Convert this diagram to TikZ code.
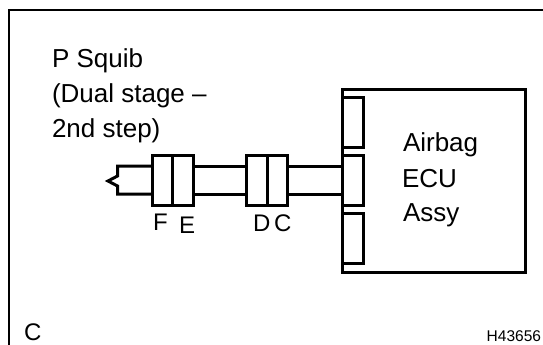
\documentclass[tikz,border=0pt]{standalone}
\usepackage{fontspec}
\setmainfont{Liberation Sans}
\usetikzlibrary{positioning, calc}
\begin{document}
\begin{tikzpicture}[
  x=1pt, y=-1pt,
  every node/.style = {inner sep=0pt, outer sep=0pt},
  block/.style = {draw=black, line width=3pt, minimum width=20.5pt, minimum height=50pt},
  ecu/.style = {draw=black, line width=3pt, minimum width=183pt, minimum height=183pt},
  port/.style = {draw=black, line width=3pt, minimum width=21pt, minimum height=50pt},
  wire/.style = {line width=3pt, line join=miter},
  frame/.style = {line width=2.2pt},
  label/.style = {font=\fontsize{26}{26}\selectfont, anchor=base west},
  pin/.style = {font=\fontsize{24}{24}\selectfont, anchor=base west}
]
\useasboundingbox (0,0) rectangle (543,345);

% Outer frame (top and left only)
\coordinate (corner) at (9,10);
\draw[frame] (543,10) -- (corner) -- (9,345);

% Heading text
\node[label] (squib1) at (52,67) {P Squib};
\node[label] (squib2) at (52,102) {(Dual stage --};
\node[label] (squib3) at (52,137) {2nd step)};

% Airbag ECU
\node[ecu] (unit) at (433.5,180.5) {};
\node[port] (port1) at (352.5,122) {};
\node[port] (port2) at (352.5,180.5) {};
\node[port] (port3) at (352.5,238) {};
\node[label] (ecu1) at (403,151) {Airbag};
\node[label] (ecu2) at (402,187) {ECU};
\node[label] (ecu3) at (403,221) {Assy};

% Connector blocks
\node[block] (f) at (162.5,180) {};
\node[block] (e) at (183,180) {};
\node[block] (d) at (257,180) {};
\node[block] (c) at (277.5,180) {};

% Wires
\coordinate (tip) at (108,181);
\coordinate (bendtop) at (117.5,166);
\coordinate (bendbot) at (117.5,194);
\draw[wire] (f.west |- bendtop) -- (bendtop) -- (117.5,176) -- (tip) -- (117.5,186) -- (bendbot) -- (f.west |- bendbot);
\draw[wire] (e.east |- bendtop) -- (d.west |- bendtop);
\draw[wire] (e.east |- bendbot) -- (d.west |- bendbot);
\draw[wire] (c.east |- bendtop) -- (port2.west |- bendtop);
\draw[wire] (c.east |- bendbot) -- (port2.west |- bendbot);

% Pin labels
\node[pin] (fl) at (153,230) {F};
\node[pin] (el) at (179,233) {E};
\node[pin] (dl) at (253,231) {D};
\node[pin] (cl) at (274,231) {C};

% Corner marks
\node[pin] (mark) at (24,340) {C};
\node[font=\fontsize{15.5}{15.5}\selectfont, anchor=base east] (code) at (541,341) {H43656};
\end{tikzpicture}
\end{document}
